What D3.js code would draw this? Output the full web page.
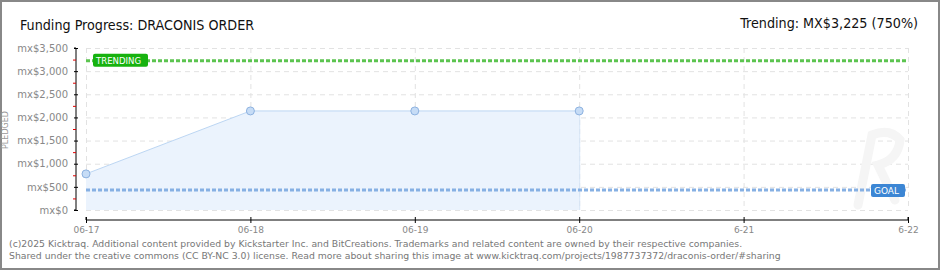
<!DOCTYPE html>
<html>
<head>
<meta charset="utf-8">
<script src="https://cdn.jsdelivr.net/npm/d3@7"></script>
<style>
  body { margin: 0; background: #fff; }
  svg { display: block; }
</style>
</head>
<body>
<div id="chart"></div>
<script>
// data
const days = ["06-17", "06-18", "06-19", "06-20", "6-21", "6-22"];
const pledged = [780, 2140, 2140, 2140];
const yTicks = [0, 500, 1000, 1500, 2000, 2500, 3000, 3500];
const yTickLabels = ["mx$0", "mx$500", "mx$1,000", "mx$1,500", "mx$2,000", "mx$2,500", "mx$3,000", "mx$3,500"];
const goal = 430;
const trending = 3225;

const w = 940, h = 270;
const plotLeft = 86, plotRight = 908, plotTop = 48, plotBottom = 210;

const svg = d3.select("#chart").append("svg")
    .attr("width", w).attr("height", h);

// frame
svg.append("rect").attr("x", 1).attr("y", 1).attr("width", w - 2).attr("height", h - 2)
    .attr("fill", "#fff").attr("stroke", "#888").attr("stroke-width", 2);

const x = d3.scalePoint().domain(days).range([plotLeft, plotRight]);
const y = d3.scaleLinear().domain([0, 3500]).range([plotBottom, plotTop]);

// grid
svg.append("g").selectAll("line").data(yTicks).enter().append("line")
    .attr("x1", plotLeft).attr("x2", plotRight)
    .attr("y1", d => y(d) + 0.5).attr("y2", d => y(d) + 0.5)
    .attr("stroke", "#e2e2e2").attr("stroke-dasharray", "5,4");
svg.append("g").selectAll("line").data(days).enter().append("line")
    .attr("x1", d => x(d) + 0.5).attr("x2", d => x(d) + 0.5)
    .attr("y1", plotTop).attr("y2", plotBottom)
    .attr("stroke", "#e2e2e2").attr("stroke-dasharray", "5,4");

// faint watermark (drawn as a shape)
svg.append("path")
    .attr("d", "M858,205 L872,135 Q890,128 900,140 Q898,160 878,165 L895,200")
    .attr("fill", "none").attr("stroke", "#f5f5f5").attr("stroke-width", 9)
    .attr("stroke-linecap", "round");

// area
const pts = pledged.map((v, i) => [days[i], v]);
svg.append("path").datum(pts)
    .attr("d", d3.area().x(d => x(d[0])).y0(y(0)).y1(d => y(d[1])))
    .attr("fill", "#ebf3fd");
svg.append("path").datum(pts)
    .attr("d", d3.line().x(d => x(d[0])).y(d => y(d[1])))
    .attr("fill", "none").attr("stroke", "#bcd6f3").attr("stroke-width", 1);
svg.append("line")
    .attr("x1", x(days[pledged.length - 1]) + 0.5).attr("x2", x(days[pledged.length - 1]) + 0.5)
    .attr("y1", y(pledged[pledged.length - 1])).attr("y2", y(0))
    .attr("stroke", "#d4e4f7");

// goal line
svg.append("line").attr("x1", plotLeft).attr("x2", plotRight)
    .attr("y1", y(goal)).attr("y2", y(goal))
    .attr("stroke", "#86b0e3").attr("stroke-width", 3).attr("stroke-dasharray", "4,2");
// trending line
svg.append("line").attr("x1", plotLeft).attr("x2", plotRight)
    .attr("y1", y(trending)).attr("y2", y(trending))
    .attr("stroke", "#5cc450").attr("stroke-width", 3).attr("stroke-dasharray", "4,2");

// points
svg.append("g").selectAll("circle").data(pts).enter().append("circle")
    .attr("cx", d => x(d[0])).attr("cy", d => y(d[1])).attr("r", 4)
    .attr("fill", "#c6dcf6").attr("stroke", "#8db2e0").attr("stroke-width", 1);

// label badges
function badge(text, bx, by, bw, tw, fill) {
    svg.append("rect").attr("x", bx).attr("y", by).attr("width", bw).attr("height", 13)
        .attr("rx", 2).attr("fill", fill);
    svg.append("text").attr("x", bx + 3).attr("y", by + 10).text(text)
        .attr("font-family", "DejaVu Sans").attr("font-size", 8.5)
        .attr("textLength", tw).attr("lengthAdjust", "spacingAndGlyphs")
        .attr("fill", "#fff");
}
badge("TRENDING", 93, y(trending) - 7, 55, 45, "#17b20f");
badge("GOAL", 871, y(goal) - 6, 34, 25, "#3c86d4");

// y axis
const yAxis = d3.axisLeft(y).tickValues(yTicks).tickFormat((d, i) => yTickLabels[i])
    .tickSize(4).tickPadding(4);
const gy = svg.append("g").attr("transform", "translate(76,0)").call(yAxis);
gy.select(".domain").attr("stroke", "#000").attr("d", `M-2,${plotTop}H0V${plotBottom}H-2`);
gy.selectAll(".tick line").attr("x2", -2).attr("x1", 2).attr("stroke", "#000");
gy.selectAll("text").attr("font-family", "DejaVu Sans").attr("font-size", 10).attr("fill", "#888");
// minor red ticks
const minor = yTicks.slice(0, -1).map((d, i) => (d + yTicks[i + 1]) / 2);
svg.append("g").selectAll("line").data(minor).enter().append("line")
    .attr("x1", 73).attr("x2", 76).attr("y1", d => y(d) + 0.5).attr("y2", d => y(d) + 0.5)
    .attr("stroke", "#e00000");

// x axis
const xAxis = d3.axisBottom(x).tickSize(3).tickPadding(4);
const gx = svg.append("g").attr("transform", "translate(0,220)").call(xAxis);
gx.select(".domain").attr("stroke", "#000").attr("d", `M${plotLeft},-3V0H${plotRight}V-3`);
gx.selectAll(".tick line").attr("y1", -3).attr("y2", 3).attr("stroke", "#000");
gx.selectAll("text").attr("font-family", "DejaVu Sans").attr("font-size", 9).attr("fill", "#888");

// y label
svg.append("text").attr("transform", "translate(8,130) rotate(-90)")
    .attr("text-anchor", "middle").text("PLEDGED")
    .attr("font-family", "DejaVu Sans").attr("font-size", 8).attr("fill", "#999");

// title
svg.append("text").attr("x", 20).attr("y", 30).text("Funding Progress: DRACONIS ORDER")
    .attr("font-family", "DejaVu Sans Condensed, DejaVu Sans").attr("font-size", 14.2).attr("fill", "#111");
svg.append("text").attr("x", 918).attr("y", 28).attr("text-anchor", "end")
    .text("Trending:  MX$3,225 (750%)")
    .attr("font-family", "DejaVu Sans Condensed, DejaVu Sans").attr("font-size", 14.2).attr("fill", "#111");

// footer
const foot = svg.append("g").attr("font-family", "DejaVu Sans").attr("font-size", 9.3).attr("fill", "#777");
foot.append("text").attr("x", 9).attr("y", 247)
    .text("(c)2025 Kicktraq. Additional content provided by Kickstarter Inc. and BitCreations. Trademarks and related content are owned by their respective companies.");
foot.append("text").attr("x", 9).attr("y", 259)
    .text("Shared under the creative commons (CC BY-NC 3.0) license. Read more about sharing this image at www.kicktraq.com/projects/1987737372/draconis-order/#sharing");
</script>
</body>
</html>
